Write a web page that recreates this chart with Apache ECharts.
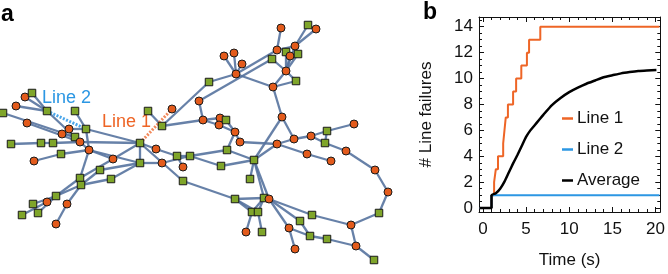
<!DOCTYPE html>
<html>
<head>
<meta charset="utf-8">
<script src="https://cdn.jsdelivr.net/npm/echarts@6/dist/echarts.min.js"></script>
<style>
  html, body { margin: 0; padding: 0; background: #fff; }
  #main { width: 668px; height: 274px; }
</style>
</head>
<body>
<div id="main"></div>
<script>
// ---- panel a: network (node id, x, y, kind c=circle s=square) ----
var nodes = [
  ['A1',281,28,'c'],['A2',308,25,'s'],['A3',316,29,'c'],['A4',295,46,'c'],['A5',277,50,'c'],
  ['A6',286,52,'s'],['A7',290,56,'c'],['A8',298,54,'s'],['A9',272,59,'s'],['A10',286,71,'c'],
  ['A11',296,81,'s'],['A12',273,87,'c'],['A13',224,56,'c'],['A14',234,53,'c'],['A15',242,64,'c'],
  ['A16',236,74,'c'],['A17',209,82,'s'],['A18',199,101,'c'],
  ['B0',148,111,'s'],['B1',162,126,'s'],['B2',172,109,'c'],['B3',203,120,'c'],['B4',220,118,'c'],
  ['B5',226,120,'s'],['B6',219,125,'c'],['B7',235,132,'c'],['B8',240,142,'c'],['B9',227,150,'s'],
  ['C0',140,143,'s'],['C1',156,149,'c'],['C2',177,156,'s'],['C3',190,156,'s'],['C4',162,163,'c'],
  ['C5',183,167,'c'],['C6',140,163,'s'],['C7',221,166,'s'],['C8',254,160,'s'],['C9',183,181,'s'],
  ['D1',250,179,'s'],['D2',277,144,'c'],['D3',294,139,'c'],['D4',311,136,'c'],['D5',327,131,'s'],
  ['D6',354,124,'c'],['D7',325,143,'s'],['D8',307,154,'c'],['D9',331,161,'c'],['D10',346,151,'c'],
  ['D11',375,170,'c'],['D12',388,192,'c'],['D13',379,213,'s'],['D14',351,225,'c'],['D15',356,246,'c'],
  ['D16',374,260,'s'],
  ['E1',235,199,'s'],['E2',264,198,'s'],['E3',269,199,'c'],['E4',252,212,'s'],['E5',258,212,'s'],
  ['E6',246,232,'c'],['E7',262,232,'s'],['E8',312,215,'s'],['E9',300,221,'s'],['E10',289,228,'c'],
  ['E11',310,236,'s'],['E12',327,239,'s'],['E13',295,249,'c'],
  ['F1',282,117,'c'],
  ['L1',25,97,'c'],['L2',32,93,'s'],['L3',16,106,'c'],['L4',3,113,'s'],['L5',47,111,'s'],
  ['L6',75,111,'s'],['L7',86,129,'s'],['L8',69,129,'c'],['L9',27,123,'c'],['L10',62,134,'c'],
  ['L11',75,137,'s'],['L12',80,142,'c'],['L13',11,144,'s'],['L14',41,143,'s'],['L15',53,143,'s'],
  ['L16',89,150,'c'],['L17',61,154,'s'],['L18',34,161,'c'],['L19',113,159,'c'],['L20',100,170,'s'],
  ['M1',80,178,'s'],['M2',81,185,'s'],['M3',111,179,'s'],['M4',56,196,'s'],['M5',33,204,'s'],
  ['M6',47,202,'c'],['M7',67,204,'c'],['M8',38,213,'s'],['M9',22,215,'s'],['M10',56,224,'c']
];

var edges = [
  'A1-A5','A2-A4','A3-A4','A4-A5','A4-A10','A6-A10','A7-A10','A8-A10','A9-A10','A10-A11',
  'A10-A12','A11-A12','A5-A16','A13-A16','A14-A16','A15-A16','A16-A12','A16-A17','A18-A9',
  'A18-B3','B1-A17','B1-B3','B0-B1','B3-B4','B3-B6','B4-B5','B5-B7','B6-B7','B7-B8','B7-B9',
  'B8-D2','B9-C8','B9-C3',
  'C0-C1','C1-C2','C2-C3','C2-C5','C0-C6','C6-C4','C4-C3','C0-C9','C3-C7','C7-C8',
  'C8-D1','C8-E2','C8-E3','C8-F1','C8-D2','C9-E1',
  'F1-A12','F1-D3','D2-D3','D3-D4','D4-D5','D5-D6','D4-D7','D5-D7','D7-D10','D10-D11',
  'D11-D12','D12-D13','D13-D14','D14-D15','D15-D16','D2-D8','D8-D9',
  'E1-E2','E1-E4','E1-E5','E2-E4','E2-E5','E4-E6','E5-E7','E3-E8','E3-E9','E3-E10',
  'E9-E11','E10-E11','E11-E12','E10-E13','E8-D14','E12-D15',
  'L1-L5','L2-L5','L3-L5','L5-L12','L4-L11','L9-L12','L6-L7','L7-L8','L7-L16','L7-C0',
  'L10-L11','L11-L12','L13-L14','L14-L15','L15-L12','L12-C0','L12-L16','L17-L16','L18-L17',
  'L16-L19','L19-C0','L16-C6','L16-M1','M1-L19','M2-L20','L20-C6','M3-C6','M1-M2','M2-M3',
  'M1-M4','M2-M4','M2-M7','M7-M10','M4-M5','M4-M6','M6-M9','M4-M8'
];

// failed lines (dashed)
var failedLine1 = ['C0', 'B2'];
var failedLine2 = ['L5', 'L7'];

// ---- panel b: line failures over time ----
var line1Time = [-0.4, 1.0, 1.3, 1.5, 1.75, 2.35, 2.5, 2.65, 2.9, 3.5, 3.85, 4.45, 5.1, 5.35, 6.65, 20.45];
var line1Val  = [0, 1, 2, 3, 4, 5, 6, 7, 8, 9, 10, 11, 12, 13, 14, 14];
var line2Time = [-0.4, 1.0, 20.45];
var line2Val  = [0, 1, 1];
var avgTime = [-0.4, 1.0, 1.0, 1.5, 2.0, 2.5, 3.0, 3.5, 4.0, 4.5, 5.0, 5.5, 6.0, 6.5, 7.0, 8.0, 9.0,
               10.0, 11.0, 12.0, 13.0, 14.0, 15.0, 16.0, 17.0, 18.0, 19.0, 20.1];
var avgVal  = [0, 0, 1, 1.15, 1.5, 2.05, 2.75, 3.45, 4.1, 4.8, 5.5, 6.0, 6.4, 6.8, 7.2, 7.95, 8.5,
               8.95, 9.3, 9.6, 9.85, 10.1, 10.25, 10.4, 10.5, 10.58, 10.62, 10.65];

var xMajor = [0, 5, 10, 15, 20];
var xMinor = [1,2,3,4,6,7,8,9,11,12,13,14,16,17,18,19];
var yMajor = [0, 2, 4, 6, 8, 10, 12, 14];
var yMinor = [0.5,1,1.5,2.5,3,3.5,4.5,5,5.5,6.5,7,7.5,8.5,9,9.5,10.5,11,11.5,12.5,13,13.5,14.5];

var font = 'Liberation Sans, Arial, sans-serif';
var orange = '#EE6526';
var blue = '#2C97E3';

function pair(a, b) { return a.map(function (t, i) { return [t, b[i]]; }); }

var graphData = nodes.map(function (n) {
  return {
    name: n[0],
    value: [n[1], n[2]],
    symbol: n[3] === 'c' ? 'circle' : 'rect',
    symbolSize: n[3] === 'c' ? 8 : 7.5,
    itemStyle: {
      color: n[3] === 'c' ? '#E35B1C' : '#7FA52A',
      borderColor: '#1a1a1a',
      borderWidth: 1
    }
  };
});
var graphLinks = edges.map(function (e) {
  var p = e.split('-');
  return { source: p[0], target: p[1] };
});
graphLinks.push({ source: failedLine1[0], target: failedLine1[1],
  lineStyle: { color: '#F28A5C', width: 3, type: [2, 1.5], opacity: 1 } });
graphLinks.push({ source: failedLine2[0], target: failedLine2[1],
  lineStyle: { color: '#4BA6EA', width: 3, type: [2, 1.5], opacity: 1 } });

function frameAxis(pos, isX, ticks, len, showLine, labels, extra) {
  var ax = {
    type: 'value', gridIndex: 1, position: pos,
    min: isX ? -0.45 : -0.3, max: isX ? 20.55 : 14.75,
    axisLine: { show: showLine, onZero: false, lineStyle: { color: '#111', width: 1 } },
    axisTick: { show: true, inside: true, length: len, customValues: ticks,
                lineStyle: { color: '#111', width: 1 } },
    axisLabel: labels ? { show: true, customValues: labels, fontSize: 17, color: '#111',
                          fontFamily: font, margin: isX ? 9 : 6 } : { show: false },
    splitLine: { show: false }
  };
  if (extra) for (var k in extra) ax[k] = extra[k];
  return ax;
}

var chart = echarts.init(document.getElementById('main'));
var option = {
  animation: false,
  grid: [
    { left: 0, top: 0, width: 440, height: 274 },
    { left: 479, top: 17, width: 183, height: 202 }
  ],
  xAxis: [
    { type: 'value', gridIndex: 0, min: 0, max: 440, show: false },
    frameAxis('bottom', true, xMajor, 5, true, xMajor, {
      name: 'Time (s)', nameLocation: 'middle', nameGap: 40,
      nameTextStyle: { fontSize: 17, color: '#111', fontFamily: font }
    }),
    frameAxis('bottom', true, xMinor, 3, false, null),
    frameAxis('top', true, xMajor, 5, true, null),
    frameAxis('top', true, xMinor, 3, false, null)
  ],
  yAxis: [
    { type: 'value', gridIndex: 0, min: 0, max: 274, inverse: true, show: false },
    frameAxis('left', false, yMajor, 5, true, yMajor, {
      name: '# Line failures', nameLocation: 'middle', nameGap: 44,
      nameTextStyle: { fontSize: 17, color: '#111', fontFamily: font }
    }),
    frameAxis('left', false, yMinor, 3, false, null),
    frameAxis('right', false, yMajor, 5, true, null),
    frameAxis('right', false, yMinor, 3, false, null)
  ],
  legend: {
    data: ['Line 1', 'Line 2', 'Average'],
    orient: 'vertical', left: 557, top: 105,
    icon: 'rect', itemWidth: 11, itemHeight: 2.5, itemGap: 14,
    selectedMode: false,
    textStyle: { fontSize: 17, color: '#111', fontFamily: font, padding: [0, 0, 0, -1] }
  },
  graphic: [
    { type: 'text', left: 1, top: 3, style: { text: 'a', font: 'bold 23px ' + font, fill: '#000' } },
    { type: 'text', left: 423, top: 1, style: { text: 'b', font: 'bold 23px ' + font, fill: '#000' } },
    { type: 'text', left: 42, top: 89, style: { text: 'Line 2', font: '18px ' + font, fill: '#2C97E3' } },
    { type: 'text', left: 102, top: 113, style: { text: 'Line 1', font: '18px ' + font, fill: '#EE6526' } }
  ],
  series: [
    {
      type: 'graph', coordinateSystem: 'cartesian2d', xAxisIndex: 0, yAxisIndex: 0,
      data: graphData, links: graphLinks,
      label: { show: false },
      lineStyle: { color: '#56739F', width: 2.3, opacity: 0.9, curveness: 0 },
      emphasis: { disabled: true },
      z: 1
    },
    {
      name: 'Line 1', type: 'line', xAxisIndex: 1, yAxisIndex: 1, step: 'end',
      data: pair(line1Time, line1Val), showSymbol: false,
      lineStyle: { color: orange, width: 2 }, itemStyle: { color: orange }, z: 3
    },
    {
      name: 'Line 2', type: 'line', xAxisIndex: 1, yAxisIndex: 1, step: 'end',
      data: pair(line2Time, line2Val), showSymbol: false,
      lineStyle: { color: blue, width: 2 }, itemStyle: { color: blue }, z: 4
    },
    {
      name: 'Average', type: 'line', xAxisIndex: 1, yAxisIndex: 1, smooth: 0.2,
      data: pair(avgTime, avgVal), showSymbol: false,
      lineStyle: { color: '#000', width: 2.5 }, itemStyle: { color: '#000' }, z: 5
    }
  ]
};
chart.setOption(option);
</script>
</body>
</html>
